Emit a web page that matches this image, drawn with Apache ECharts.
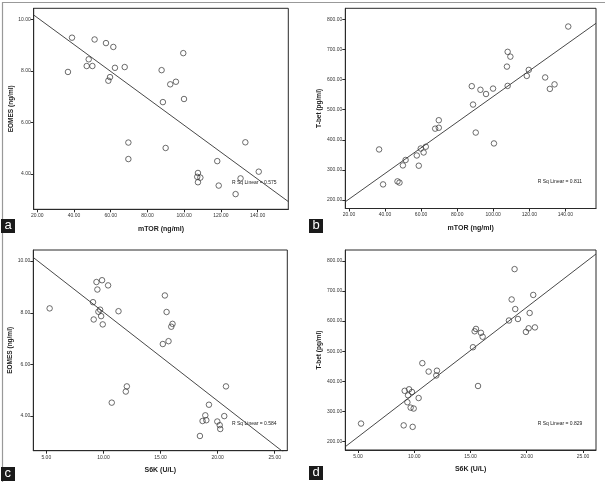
<!DOCTYPE html>
<html>
<head>
<meta charset="utf-8">
<script src="https://cdn.jsdelivr.net/npm/echarts@6/dist/echarts.min.js"></script>
<style>
html,body{margin:0;padding:0;background:#fff;}
#chart{width:605px;height:482px;}
</style>
</head>
<body>
<div id="chart"></div>
<script>
// ---- Panel a: mTOR vs EOMES ----
const mtorA  = [36.7,38.9,51.2,57.4,61.4,48.0,46.9,50.0,62.3,67.6,59.6,58.7,87.7,99.5,95.5,92.4,88.4,99.9,69.6,69.6,89.9,133.3,118.0,140.6,107.5,107.1,108.8,107.5,118.8,130.7,128.0];
const eomesA = [7.96,9.29,9.22,9.08,8.93,8.45,8.19,8.19,8.12,8.15,7.76,7.62,8.03,8.69,7.58,7.48,6.79,6.91,5.22,4.58,5.01,5.23,4.50,4.09,4.04,3.89,3.86,3.68,3.55,3.83,3.22];
// ---- Panel b: mTOR vs T-bet ----
const mtorB  = [36.7,38.9,46.9,48.0,49.9,51.4,57.6,58.7,59.8,61.4,62.6,67.8,69.8,69.8,88.1,88.8,90.3,92.9,96.0,99.9,100.4,107.6,108.0,108.0,109.5,118.6,119.7,128.8,131.4,134.0,141.6];
const tbetB  = [368,252,262,258,315,333,348,314,371,358,377,437,440,465,578,517,424,566,552,570,388,643,692,579,676,612,632,607,569,584,776];
// ---- Panel c: S6K vs EOMES ----
const s6kC   = [5.29,9.09,9.15,9.39,9.47,9.88,9.56,9.71,9.80,9.94,10.41,11.32,10.73,11.96,12.05,15.38,15.53,16.05,15.94,15.70,15.20,20.73,19.24,18.92,18.68,19.01,19.97,20.18,20.23,20.58,18.45];
const eomesC = [8.17,8.41,7.74,9.19,8.90,9.26,8.04,8.12,7.87,7.55,9.06,8.06,4.52,4.95,5.15,8.67,8.03,7.57,7.46,6.90,6.79,5.15,4.44,4.03,3.81,3.84,3.79,3.65,3.50,4.00,3.23];
// ---- Panel d: S6K vs T-bet ----
const s6kD   = [5.27,9.06,9.15,9.39,9.45,9.54,9.80,9.68,9.95,9.86,10.39,10.72,11.28,11.96,12.02,15.22,15.49,15.37,15.93,16.08,15.67,18.42,18.66,18.92,18.98,19.22,19.93,20.17,20.26,20.58,20.73];
const tbetD  = [259,253,368,330,353,373,364,312,309,248,344,460,432,419,435,513,574,566,561,548,384,602,672,773,640,607,564,576,627,687,579];

// linear fit lines (end points, in data units)
const fitA = [[18.04,10.17],[156.7,2.93]];
const fitB = [[17.95,194.4],[157.0,786.7]];
const fitC = [[3.86,10.14],[26.1,2.49]];
const fitD = [[3.87,182],[26.16,823.3]];

// tick labels
const mtorTicks  = [20,40,60,80,100,120,140];
const s6kTicks   = [5,10,15,20,25];
const eomesTicks = [4,6,8,10];
const tbetTicks  = [200,300,400,500,600,700,800];

const rSqLabels = ['R Sq Linear = 0.575','R Sq Linear = 0.811','R Sq Linear = 0.584','R Sq Linear = 0.829'];
const xTitles = ['mTOR (ng/ml)','mTOR (ng/ml)','S6K (U/L)','S6K (U/L)'];
const yTitles = ['EOMES (ng/ml)','T-bet (pg/ml)','EOMES (ng/ml)','T-bet (pg/ml)'];
const panelLetters = ['a','b','c','d'];

const panels = [
  {x: mtorA, y: eomesA, fit: fitA, xt: mtorTicks, yt: eomesTicks, xr:[18.04,156.7], yr:[2.63,10.43],
   grid:{left:33.7, top:8.3, width:254.6, height:201}, yGap:18.5, xGap:16, rsq:[232,180], box:[1,219]},
  {x: mtorB, y: tbetB, fit: fitB, xt: mtorTicks, yt: tbetTicks, xr:[17.95,157.0], yr:[172,836.5],
   grid:{left:345.3, top:8.3, width:250.7, height:200.2}, yGap:19.5, xGap:16, rsq:[537.7,179.5], box:[309,219]},
  {x: s6kC, y: eomesC, fit: fitC, xt: s6kTicks, yt: eomesTicks, xr:[3.86,26.1], yr:[2.66,10.43],
   grid:{left:33.3, top:250, width:254, height:200.7}, yGap:18.5, xGap:15.5, rsq:[232,421.5], box:[1,467]},
  {x: s6kD, y: tbetD, fit: fitD, xt: s6kTicks, yt: tbetTicks, xr:[3.87,26.16], yr:[171,836.6],
   grid:{left:345.3, top:250, width:250.7, height:200}, yGap:19.5, xGap:15.5, rsq:[537.7,421.2], box:[309,466]}
];

const FONT = 'Liberation Sans, Arial, sans-serif';
const grids=[], xAxes=[], yAxes=[], series=[], graphics=[];

panels.forEach((p,i)=>{
  grids.push(Object.assign({show:true, borderColor:'#2a2a2a', borderWidth:1, backgroundColor:'#fff', containLabel:false}, p.grid));
  xAxes.push({
    type:'value', gridIndex:i, min:p.xr[0], max:p.xr[1],
    name: xTitles[i], nameLocation:'middle', nameGap:p.xGap,
    nameTextStyle:{fontFamily:FONT, fontSize:7, fontWeight:'bold', color:'#222'},
    axisLine:{show:true, onZero:false, lineStyle:{color:'#2a2a2a', width:1}},
    axisTick:{show:true, inside:false, length:3, customValues:p.xt, lineStyle:{color:'#2a2a2a'}},
    axisLabel:{show:true, margin:4, customValues:p.xt, fontFamily:FONT, fontSize:5, color:'#333',
      formatter:v=>Number(v).toFixed(2)},
    splitLine:{show:false}
  });
  yAxes.push({
    type:'value', gridIndex:i, min:p.yr[0], max:p.yr[1],
    name: yTitles[i], nameLocation:'middle', nameGap:p.yGap, nameRotate:90,
    nameTextStyle:{fontFamily:FONT, fontSize:6.5, fontWeight:'bold', color:'#222'},
    axisLine:{show:true, onZero:false, lineStyle:{color:'#2a2a2a', width:1}},
    axisTick:{show:true, inside:false, length:3, customValues:p.yt, lineStyle:{color:'#2a2a2a'}},
    axisLabel:{show:true, margin:3, customValues:p.yt, fontFamily:FONT, fontSize:5, color:'#333',
      formatter:v=>Number(v).toFixed(2)},
    splitLine:{show:false}
  });
  series.push({
    type:'line', xAxisIndex:i, yAxisIndex:i, data: p.fit,
    showSymbol:false, symbol:'none', clip:true, silent:true, animation:false,
    lineStyle:{color:'#333', width:0.9}
  });
  series.push({
    type:'scatter', xAxisIndex:i, yAxisIndex:i, data: p.x.map((v,k)=>[v,p.y[k]]),
    symbol:'circle', symbolSize:5.5, animation:false,
    itemStyle:{color:'rgba(255,255,255,0)', borderColor:'#333', borderWidth:0.9}
  });
  graphics.push({type:'text', left:p.rsq[0], top:p.rsq[1], silent:true,
    style:{text:rSqLabels[i], font:'5px '+FONT, fill:'#222'}});
  graphics.push({type:'rect', left:p.box[0], top:p.box[1], silent:true,
    shape:{width:14, height:14}, style:{fill:'#1a1a1a'}});
  graphics.push({type:'text', left:p.box[0]+3.5, top:p.box[1]-0.5, silent:true,
    style:{text:panelLetters[i], font:'13px '+FONT, fill:'#fff'}});
});

// outer frame
graphics.push({type:'rect', left:0, top:0, silent:true, z:-1,
  shape:{x:0.5,y:0.5,width:603.5,height:480.5}, style:{fill:'none', stroke:'#999', lineWidth:1.2}});

const chart = echarts.init(document.getElementById('chart'), null, {renderer:'canvas'});
chart.setOption({
  animation:false,
  backgroundColor:'#fff',
  grid: grids, xAxis: xAxes, yAxis: yAxes, series: series, graphic: graphics
});
</script>
</body>
</html>
